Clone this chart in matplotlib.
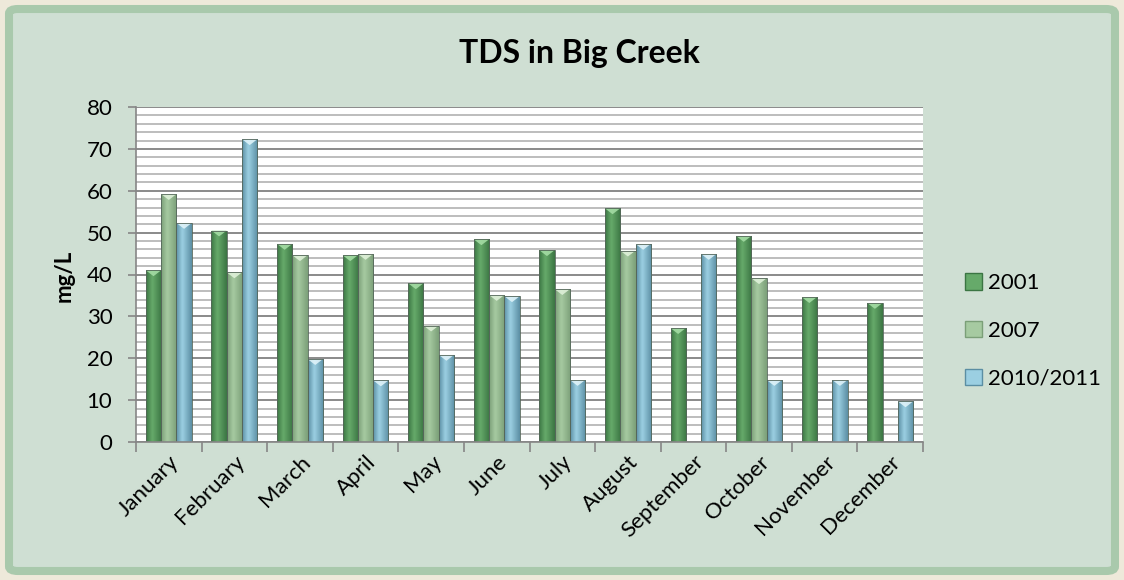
import numpy as np
import matplotlib
matplotlib.use("Agg")
import matplotlib.pyplot as plt
from matplotlib.patches import FancyBboxPatch, Polygon, Patch
from matplotlib.ticker import MultipleLocator

plt.rcParams["font.family"] = ["Lato", "DejaVu Sans"]

months = ["January", "February", "March", "April", "May", "June", "July",
          "August", "September", "October", "November", "December"]
series_names = ["2001", "2007", "2010/2011"]
tds_2001 = [41.0, 50.5, 47.3, 44.6, 37.9, 48.4, 45.8, 55.8, 27.2, 49.2, 34.6, 33.2]
tds_2007 = [59.2, 40.5, 44.6, 44.9, 27.8, 35.1, 36.5, 45.7, np.nan, 39.1, np.nan, np.nan]
tds_2010 = [52.3, 72.3, 19.8, 14.7, 20.8, 34.8, 14.8, 47.3, 44.9, 14.8, 14.8, 9.7]

# (edge shade, mid shade, bevel tip) for each series
shades = [
    ("#3b7543", "#66aa6a", "#a8e0a8"),
    ("#7b9f78", "#a6caa1", "#e2f3dc"),
    ("#5b8ea3", "#9bcfe2", "#e4f6fb"),
]

fig = plt.figure(figsize=(11.24, 5.8), dpi=100, facecolor="#eee9da")

# chart area frame
frame = FancyBboxPatch((9 / 1124, 9 / 580), 1 - 18 / 1124, 1 - 18 / 580,
                       boxstyle="round,pad=0,rounding_size=0.008",
                       transform=fig.transFigure, facecolor="#cfdfd3",
                       edgecolor="#a9c9ac", linewidth=5.8, zorder=-5)
fig.patches.append(frame)

ax = fig.add_axes([136 / 1124, 1 - 442 / 580, (923 - 136) / 1124, (442 - 107) / 580])
ax.set_zorder(2)
ax.set_facecolor("white")

x = np.arange(len(months))
width = 0.7 / 3

# gridlines: light every 2, darker every 10
ax.yaxis.set_major_locator(MultipleLocator(10))
ax.yaxis.set_minor_locator(MultipleLocator(2))
ax.grid(which="minor", axis="y", color="#bdbdbd", linewidth=1.4, zorder=0)
ax.grid(which="major", axis="y", color="#8a8a8a", linewidth=1.4, zorder=0)
ax.set_axisbelow(True)

grad = np.concatenate([np.linspace(0, 1, 40), np.linspace(1, 0, 60)])[None, :]
bevel = 1.4
for i, vals in enumerate([tds_2001, tds_2007, tds_2010]):
    edge, mid, tip = shades[i]
    cmap = matplotlib.colors.LinearSegmentedColormap.from_list("s%d" % i, [edge, mid])
    pos = x + (i - 1) * width
    bars = ax.bar(pos, np.nan_to_num(vals), width, color=mid, edgecolor="none",
                  linewidth=0, zorder=2)
    for bar, v in zip(bars, vals):
        if np.isnan(v):
            bar.set_visible(False)
            continue
        x0 = bar.get_x()
        x1 = x0 + bar.get_width()
        im = ax.imshow(grad, cmap=cmap, aspect="auto", extent=(x0, x1, 0, v),
                       zorder=2.1, interpolation="bicubic")
        im.set_clip_path(bar)
        ax.add_patch(Polygon([(x0, v), (x1, v), ((x0 + x1) / 2, v - bevel)],
                             closed=True, facecolor=tip, edgecolor="none",
                             alpha=0.85, zorder=2.2))
        ax.add_patch(Polygon([(x0, v), (x1, v), (x1, 0), (x0, 0)], closed=True,
                             facecolor="none", edgecolor="#55665a",
                             linewidth=0.6, zorder=2.3))

ax.set_xlim(-0.5, len(months) - 0.5)
ax.set_ylim(0, 80)

# category ticks sit between groups, labels at the centres
ax.set_xticks(np.arange(-0.5, len(months)), minor=False)
ax.set_xticklabels([])
ax.set_xticks(x, minor=True)
ax.set_xticklabels(months, minor=True, rotation=45, ha="right",
                   rotation_mode="anchor", fontsize=16)
ax.tick_params(axis="x", which="minor", length=0, pad=7)
ax.tick_params(axis="x", which="major", length=7, color="#868686", width=1.2)
ax.tick_params(axis="y", which="major", length=6, color="#868686", width=1.2,
               labelsize=16, pad=11)
ax.tick_params(axis="y", which="minor", length=0)

for side in ["top", "right"]:
    ax.spines[side].set_visible(False)
for side in ["left", "bottom"]:
    ax.spines[side].set_color("#868686")
    ax.spines[side].set_linewidth(1.2)

fig.text(579 / 1124, 1 - 54 / 580, "TDS in Big Creek", ha="center", va="center",
         fontsize=23, fontweight="bold")
fig.text(64 / 1124, 1 - 276 / 580, "mg/L", ha="center", va="center",
         rotation=90, fontsize=16, fontweight="bold")

handles = [Patch(facecolor=s[1], edgecolor=s[0]) for s in shades]
fig.legend(handles, series_names, loc="center left",
           bbox_to_anchor=(945 / 1124, 1 - 331 / 580), frameon=False,
           fontsize=16, handlelength=0.75, handleheight=0.75,
           handletextpad=0.3, labelspacing=1.25)

fig.savefig("out.png", dpi=100, facecolor=fig.get_facecolor())
